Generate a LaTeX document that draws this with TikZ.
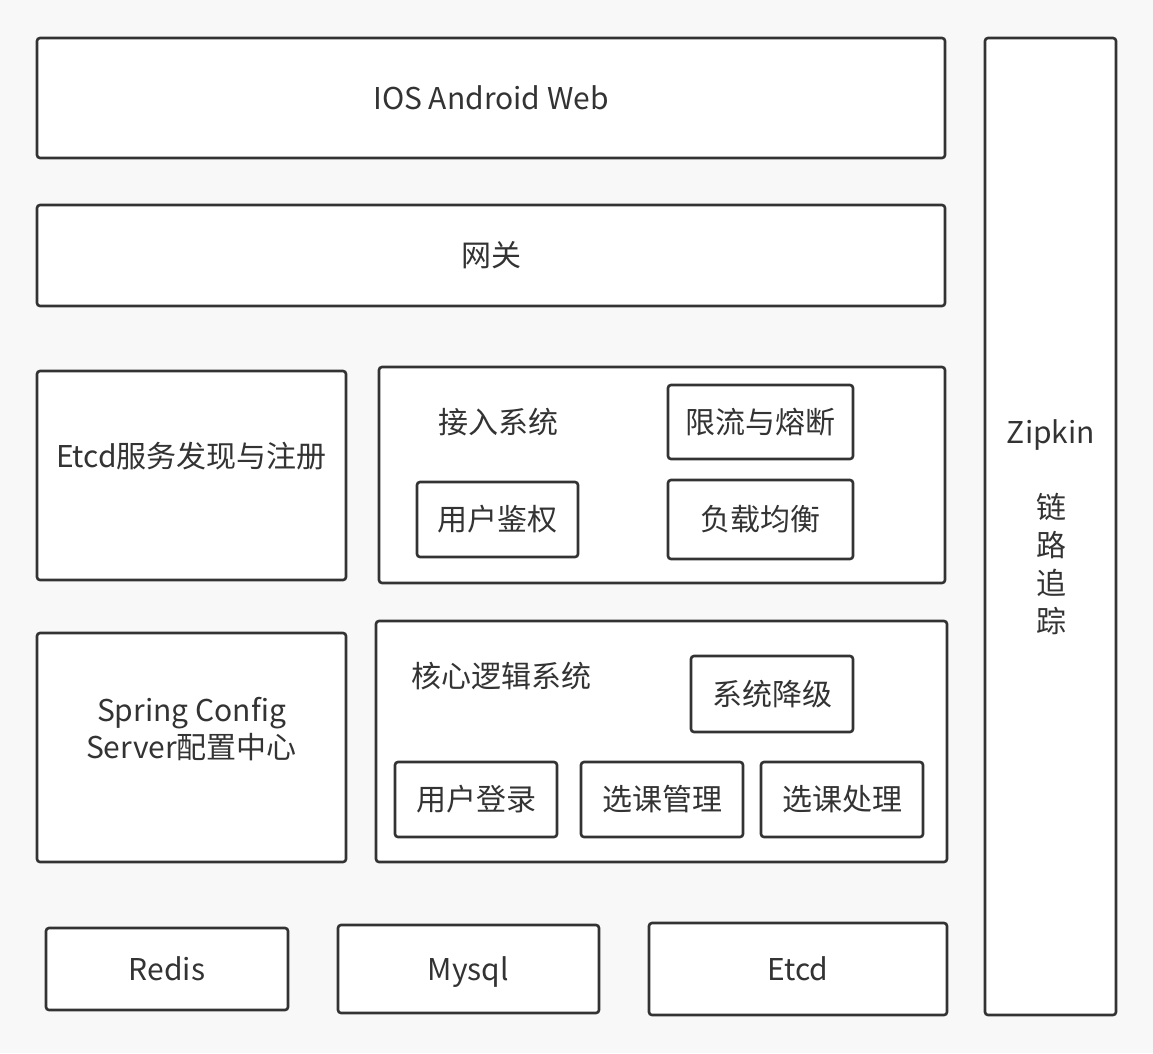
\documentclass[tikz,border=0pt]{standalone}
\usepackage{fontspec}
\setmainfont{Noto Sans CJK SC}
\usetikzlibrary{positioning}

\definecolor{bg}{HTML}{F8F8F8}
\definecolor{edge}{HTML}{333333}

\tikzset{
  box/.style={draw=edge, line width=2.6pt, rounded corners=3pt, fill=white,
              inner sep=0pt, text=edge, font=\fontsize{30}{37}\selectfont, align=center},
  lbl/.style={text=edge, inner sep=0pt, font=\fontsize{30}{37}\selectfont, align=center}
}

\begin{document}
\begin{tikzpicture}[x=1pt,y=-1pt]

  \fill[bg] (0,0) rectangle (1153,1053);
  \useasboundingbox (0,0) rectangle (1153,1053);

  % layers
  \node[box, minimum width=908pt, minimum height=120pt] (client) at (491,98)  {IOS Android Web};
  \node[box, minimum width=908pt, minimum height=101pt] (gw)     at (491,255.5) {网关};

  \node[box, minimum width=309pt, minimum height=209pt] (etcdreg) at (191.5,475.5) {};
  \node[lbl] (etcdregt) at (191.5,456) {Etcd服务发现与注册};
  \node[box, minimum width=566pt, minimum height=216pt] (access)  at (662,475)   {};
  \node[lbl] (accesst) at (498,422) {接入系统};
  \node[box, minimum width=185pt, minimum height=74pt] (limit) at (760.5,422) {限流与熔断};
  \node[box, minimum width=161pt, minimum height=75pt] (auth)  at (497.5,519.5) {用户鉴权};
  \node[box, minimum width=185pt, minimum height=79pt] (lb)    at (760.5,519.5) {负载均衡};

  \node[box, minimum width=309pt, minimum height=229pt] (config) at (191.5,747.5) {};
  \node[lbl] (configt) at (191.5,729) {Spring Config\\Server配置中心};
  \node[box, minimum width=571pt, minimum height=241pt] (core)   at (661.5,741.5) {};
  \node[lbl] (coret) at (501,676) {核心逻辑系统};
  \node[box, minimum width=162pt, minimum height=76pt] (degrade) at (772,694)   {系统降级};
  \node[box, minimum width=162pt, minimum height=75pt] (login)   at (476,799.5) {用户登录};
  \node[box, minimum width=162pt, minimum height=75pt] (select)  at (662,799.5) {选课管理};
  \node[box, minimum width=162pt, minimum height=75pt] (handle)  at (842,799.5) {选课处理};

  % storage
  \node[box, minimum width=242pt, minimum height=82pt] (redis) at (167,969)  {Redis};
  \node[box, minimum width=261pt, minimum height=88pt, text depth=0pt] (mysql) at (468.5,969) {Mysql};
  \node[box, minimum width=298pt, minimum height=92pt] (etcd)  at (798,969)  {Etcd};

  % tracing
  \node[box, minimum width=131pt, minimum height=977pt] (zipkin) at (1050.5,526.5) {};
  \node[lbl, text depth=0pt] (zipkint) at (1051,432) {Zipkin};
  \node[lbl, font=\fontsize{30}{38}\selectfont] (trace) at (1051,564) {链\\路\\追\\踪};

\end{tikzpicture}
\end{document}
